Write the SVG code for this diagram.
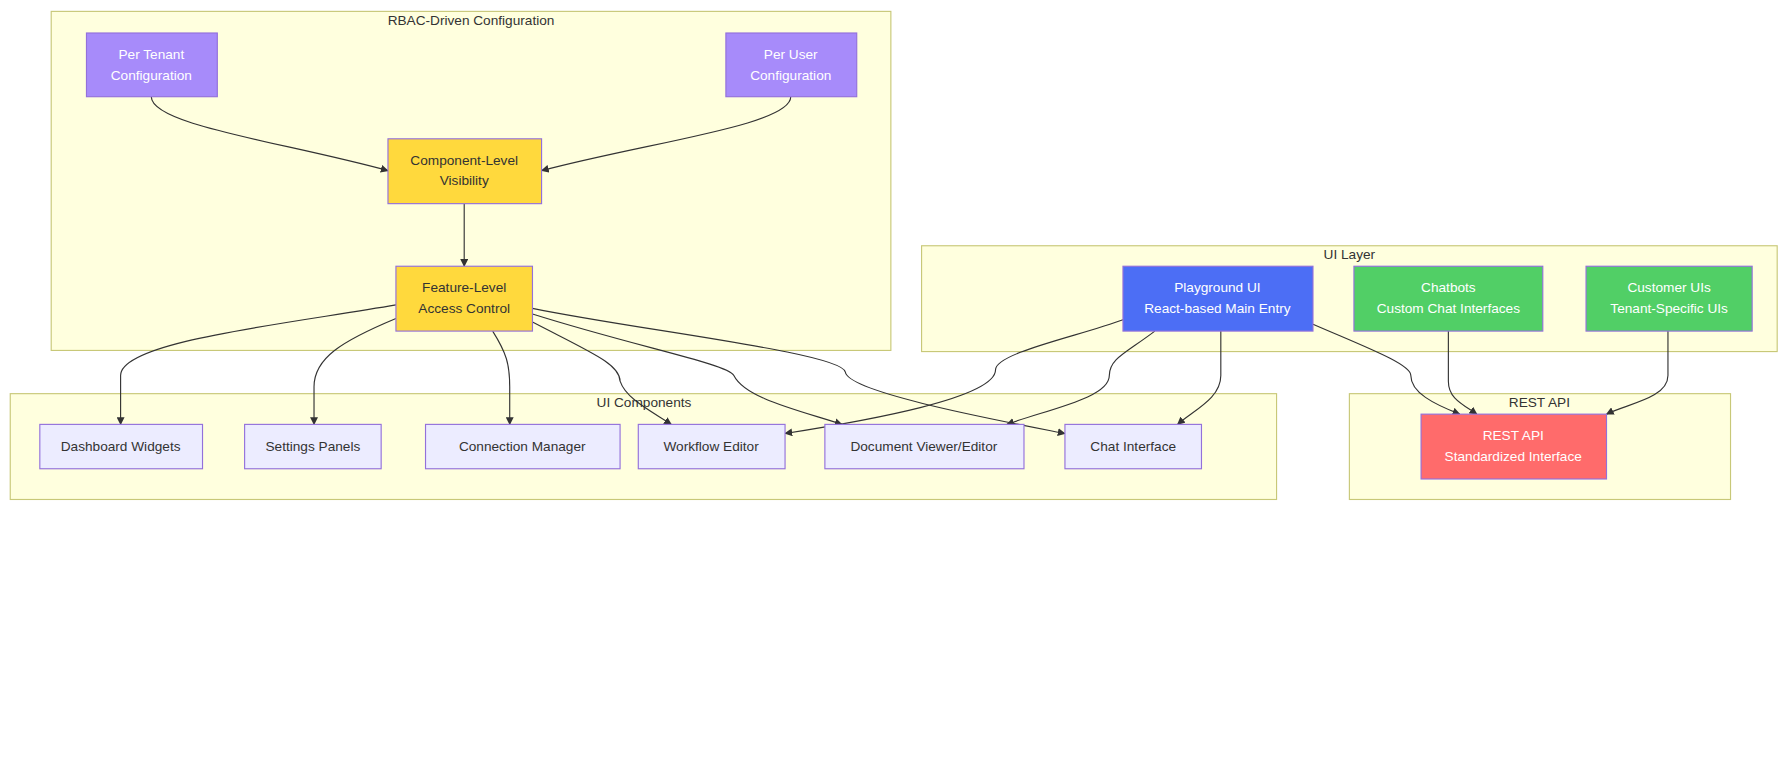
<svg xmlns="http://www.w3.org/2000/svg" width="1784" height="765" viewBox="0 0 1784 765">
<style>
.cl{fill:#ffffde;stroke:#c8c878;stroke-width:1}
.ct{font-family:"Liberation Sans",Arial,sans-serif;font-size:12px;fill:#333;text-anchor:middle}
.n rect{stroke:#9370db;stroke-width:1}
.n text{font-family:"Liberation Sans",Arial,sans-serif;font-size:12px;text-anchor:middle}
.w text{fill:#fff}
.d text{fill:#333}
.e path{fill:none;stroke:#333;stroke-width:1}
</style>
<defs><marker id="a" viewBox="0 0 10 10" refX="9" refY="5" markerWidth="7" markerHeight="7" orient="auto"><path d="M0,0L10,5L0,10z" fill="#333"/></marker></defs>
<rect width="1784" height="765" fill="#fff"/>
<g transform="scale(1.13776)">
<g id="clusters">
<rect class="cl" x="45" y="10" width="738" height="298"/><text class="ct" x="414" y="22">RBAC-Driven Configuration</text>
<rect class="cl" x="9" y="346" width="1113" height="93"/><text class="ct" x="566" y="358">UI Components</text>
<rect class="cl" x="810" y="216" width="752" height="93"/><text class="ct" x="1186" y="228">UI Layer</text>
<rect class="cl" x="1186" y="346" width="335" height="93"/><text class="ct" x="1353" y="358">REST API</text>
</g>
<g class="e" id="edges">
<path d="M133,85 C133,110 250,125 341,150" marker-end="url(#a)"/>
<path d="M695,85 C695,110 570,125 476,150" marker-end="url(#a)"/>
<path d="M408,179 L408,234" marker-end="url(#a)"/>
<path d="M348,268 C250,285 106,300 106,330 L106,373" marker-end="url(#a)"/>
<path d="M348,280 C300,300 276,315 276,340 L276,373" marker-end="url(#a)"/>
<path d="M433,291 C445,310 448,320 448,340 L448,373" marker-end="url(#a)"/>
<path d="M468,283 C520,310 545,320 545,335 C550,350 570,360 590,373" marker-end="url(#a)"/>
<path d="M468,276 C560,305 640,320 645,330 C655,350 700,360 740,373" marker-end="url(#a)"/>
<path d="M468,271 C560,290 740,310 743,327 C745,345 880,370 936,381" marker-end="url(#a)"/>
<path d="M987,281 C950,295 875,310 875,325 C875,350 760,370 690,381" marker-end="url(#a)"/>
<path d="M1015,291 C990,310 975,315 975,330 C975,350 920,360 885,373" marker-end="url(#a)"/>
<path d="M1073,291 L1073,330 C1073,350 1050,360 1035,373" marker-end="url(#a)"/>
<path d="M1154,285 C1200,305 1240,320 1240,330 C1240,345 1260,355 1283,364" marker-end="url(#a)"/>
<path d="M1273,291 L1273,335 C1273,350 1285,355 1298,364" marker-end="url(#a)"/>
<path d="M1466,291 L1466,330 C1466,350 1430,355 1412,364" marker-end="url(#a)"/>
</g>
<g id="tenant" class="n w"><rect x="76" y="29" width="115" height="56" fill="#a78bfa"/><text x="133" y="52">Per Tenant</text><text x="133" y="70">Configuration</text></g>
<g id="user" class="n w"><rect x="638" y="29" width="115" height="56" fill="#a78bfa"/><text x="695" y="52">Per User</text><text x="695" y="70">Configuration</text></g>
<g id="comp" class="n d"><rect x="341" y="122" width="135" height="57" fill="#ffd93d"/><text x="408" y="145">Component-Level</text><text x="408" y="163">Visibility</text></g>
<g id="feat" class="n d"><rect x="348" y="234" width="120" height="57" fill="#ffd93d"/><text x="408" y="257">Feature-Level</text><text x="408" y="275">Access Control</text></g>
<g id="dash" class="n d"><rect x="35" y="373" width="143" height="39" fill="#ececff"/><text x="106" y="396">Dashboard Widgets</text></g>
<g id="settings" class="n d"><rect x="215" y="373" width="120" height="39" fill="#ececff"/><text x="275" y="396">Settings Panels</text></g>
<g id="conn" class="n d"><rect x="374" y="373" width="171" height="39" fill="#ececff"/><text x="459" y="396">Connection Manager</text></g>
<g id="wf" class="n d"><rect x="561" y="373" width="129" height="39" fill="#ececff"/><text x="625" y="396">Workflow Editor</text></g>
<g id="doc" class="n d"><rect x="725" y="373" width="175" height="39" fill="#ececff"/><text x="812" y="396">Document Viewer/Editor</text></g>
<g id="chat" class="n d"><rect x="936" y="373" width="120" height="39" fill="#ececff"/><text x="996" y="396">Chat Interface</text></g>
<g id="play" class="n w"><rect x="987" y="234" width="167" height="57" fill="#4c6ef5"/><text x="1070" y="257">Playground UI</text><text x="1070" y="275">React-based Main Entry</text></g>
<g id="bots" class="n w"><rect x="1190" y="234" width="166" height="57" fill="#51cf66"/><text x="1273" y="257">Chatbots</text><text x="1273" y="275">Custom Chat Interfaces</text></g>
<g id="cust" class="n w"><rect x="1394" y="234" width="146" height="57" fill="#51cf66"/><text x="1467" y="257">Customer UIs</text><text x="1467" y="275">Tenant-Specific UIs</text></g>
<g id="rest" class="n w"><rect x="1249" y="364" width="163" height="57" fill="#ff6b6b"/><text x="1330" y="387">REST API</text><text x="1330" y="405">Standardized Interface</text></g>
</g>
</svg>
